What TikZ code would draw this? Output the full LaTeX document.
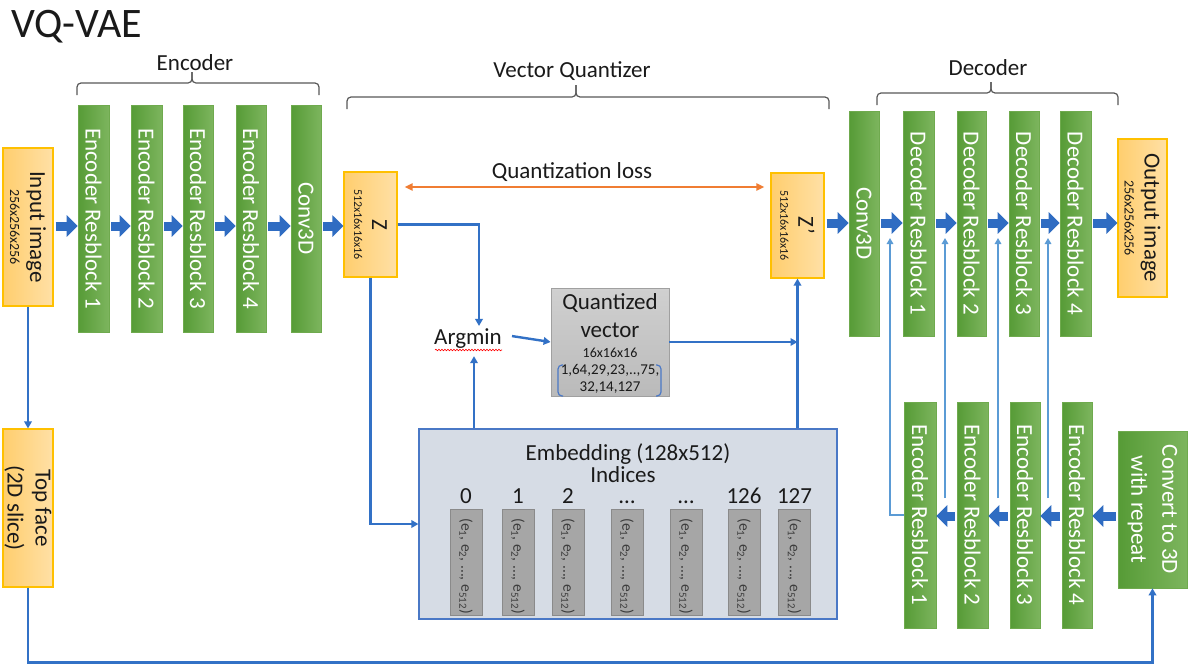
\documentclass[tikz,border=0pt]{standalone}
\usepackage{fontspec}
\setmainfont{Carlito}
\usetikzlibrary{arrows.meta,calc,decorations.pathmorphing}

\definecolor{gDark}{HTML}{569B36}
\definecolor{gLight}{HTML}{7DB55E}
\definecolor{gEdge}{HTML}{6FAA4E}
\definecolor{oDark}{HTML}{FFCE6E}
\definecolor{oLight}{HTML}{FFE0A6}
\definecolor{oEdge}{HTML}{FFC000}
\definecolor{flowBlue}{HTML}{2F6CC2}
\definecolor{linkBlue}{HTML}{3271C6}
\definecolor{skipBlue}{HTML}{5B9BD5}
\definecolor{lossOrange}{HTML}{F07D33}
\definecolor{embFill}{HTML}{D6DCE5}
\definecolor{embEdge}{HTML}{4A78C6}
\definecolor{qvDark}{HTML}{BABABA}
\definecolor{qvLight}{HTML}{D0D0D0}
\definecolor{qvEdge}{HTML}{A0A0A0}
\definecolor{barFill}{HTML}{A6A6A6}
\definecolor{barEdge}{HTML}{8A8A8A}
\definecolor{braceGray}{HTML}{595959}
\definecolor{ink}{HTML}{1A1A1A}

\tikzset{
  txt/.style={font=\fontsize{23}{28}\selectfont, text=ink, inner sep=0pt},
  small/.style={font=\fontsize{14}{16}\selectfont, text=ink, inner sep=0pt},
  gbox/.style={draw=gEdge, line width=0.6pt, left color=gDark, right color=gLight, inner sep=0pt},
  obox/.style={draw=oEdge, line width=1.2pt, left color=oDark, right color=oLight, inner sep=0pt},
  vlabel/.style={rotate=-90, align=center, inner sep=0pt, font=\fontsize{23}{28}\selectfont, text=ink},
  wlabel/.style={vlabel, text=white},
  flowarrow/.style={draw=flowBlue, line width=9pt, shorten <=2pt, -{Triangle[length=11pt,width=21pt]}},
  linkarrow/.style={draw=linkBlue, line width=2.4pt, -{Triangle[length=7pt,width=7.5pt]}},
  skiparrow/.style={draw=skipBlue, line width=1.7pt, -{Triangle[length=6pt,width=6.5pt]}},
  lossarrow/.style={draw=lossOrange, line width=2pt, {Triangle[length=8pt,width=7pt]}-{Triangle[length=8pt,width=7pt]}},
  bracepath/.style={draw=braceGray, line width=1.2pt, rounded corners=4pt},
  barbox/.style={draw=barEdge, line width=0.8pt, fill=barFill, minimum width=32pt, minimum height=106pt, inner sep=0pt},
  barlabel/.style={rotate=-90, inner sep=0pt, font=\fontsize{15.5}{17}\selectfont, text=ink!85},
}

\begin{document}
\begin{tikzpicture}[x=1pt,y=-1pt]
\path[fill=white, use as bounding box] (0,0) rectangle (1190,665);

% title
\node[font=\fontsize{42}{46}\selectfont, text=ink, anchor=base west, inner sep=0pt] (title) at (11,37) {VQ-VAE};

% ---------------- encoder ----------------
\node[obox, minimum width=50pt, minimum height=158pt] (input) at (28,227) {};
\node[vlabel, font=\fontsize{23}{20}\selectfont] (inputt) at (input) {Input image\\{\fontsize{14}{16}\selectfont 256x256x256}};

\node[gbox, minimum width=31pt, minimum height=227pt] (er1) at (93.5,218.5) {};
\node[gbox, minimum width=31pt, minimum height=227pt] (er2) at (146.5,218.5) {};
\node[gbox, minimum width=30pt, minimum height=227pt] (er3) at (198,218.5) {};
\node[gbox, minimum width=30pt, minimum height=227pt] (er4) at (251,218.5) {};
\node[gbox, minimum width=30pt, minimum height=227pt] (econv) at (306,218.5) {};
\node[wlabel] (er1t) at (er1) {Encoder Resblock 1};
\node[wlabel] (er2t) at (er2) {Encoder Resblock 2};
\node[wlabel] (er3t) at (er3) {Encoder Resblock 3};
\node[wlabel] (er4t) at (er4) {Encoder Resblock 4};
\node[wlabel] (econvt) at (econv) {Conv3D};

\draw[bracepath] (77,95) -- (77,83) -- (192,83) -- (192,72);
\draw[bracepath] (319,95) -- (319,83) -- (192,83) -- (192,72);
\node[txt, anchor=base] (enclab) at (195,70) {Encoder};

% ---------------- vector quantizer ----------------
\node[obox, minimum width=53pt, minimum height=105pt] (z) at (370.5,224.5) {};
\node[vlabel, font=\fontsize{23}{18}\selectfont] (zt) at (z) {Z\\{\fontsize{12}{14}\selectfont 512x16x16x16}};
\node[obox, minimum width=53pt, minimum height=105pt] (zp) at (797.5,225.5) {};
\node[vlabel, font=\fontsize{23}{18}\selectfont] (zpt) at (zp) {Z’\\{\fontsize{12}{14}\selectfont 512x16x16x16}};

\draw[bracepath] (347,109) -- (347,97) -- (576,97) -- (576,85);
\draw[bracepath] (829,109) -- (829,97) -- (576,97) -- (576,85);
\node[txt, anchor=base] (vqlab) at (572,77) {Vector Quantizer};

\node[txt, anchor=base] (losslab) at (572,178) {Quantization loss};
\draw[lossarrow, shorten <=7pt, shorten >=6pt] (z.east |- 0,187) -- (zp.west |- 0,187);

\node[txt, anchor=base] (argmin) at (468,344) {Argmin};
\draw[red, line width=0.6pt, decorate, decoration={snake, amplitude=0.8pt, segment length=3pt}]
  (435,350) -- (502,350);

\node[draw=qvEdge, line width=0.8pt, top color=qvLight, bottom color=qvDark,
      minimum width=118pt, minimum height=108pt, inner sep=0pt] (qv) at (610,342) {};
\node[txt, anchor=base] (qv1) at (610,309) {Quantized};
\node[txt, anchor=base] (qv2) at (610,337) {vector};
\node[small, anchor=base] (qv3) at (610,357) {16x16x16};
\node[small, font=\fontsize{15}{17}\selectfont, anchor=base] (qv4) at (610,374) {1,64,29,23,..,75,};
\node[small, font=\fontsize{15}{17}\selectfont, anchor=base] (qv5) at (610,391) {32,14,127};
\draw[draw=embEdge, line width=1.2pt, rounded corners=4pt] (563,365) -- (558,365) -- (558,396) -- (563,396);
\draw[draw=embEdge, line width=1.2pt, rounded corners=4pt] (656,365) -- (661,365) -- (661,396) -- (656,396);

% codebook
\node[draw=embEdge, line width=1.2pt, fill=embFill, minimum width=418pt, minimum height=190pt, inner sep=0pt] (emb) at (628,524) {};
\node[txt, anchor=base] (embt) at (628,460) {Embedding (128x512)};
\node[txt, anchor=base] (indt) at (623,482) {Indices};
\foreach \name/\x/\lab in {b0/466/0, b1/518/1, b2/568/2, b3/627/…, b4/686/…, b5/744/126, b6/794.5/127}{
  \node[txt, anchor=base] (\name i) at (\x,503) {\lab};
  \node[barbox] (\name) at (\x,562) {};
  \node[barlabel] (\name t) at ([yshift=-4pt]\name.center) {(e\textsubscript{1}, e\textsubscript{2}, ..., e\textsubscript{512})};
}

% quantizer connections
\coordinate (amintop) at ($(argmin.north)+(11,-2)$);
\coordinate (aminbot) at ($(argmin.south)+(6,8)$);
\draw[linkarrow] (z.east) -| (amintop);
\draw[linkarrow] (emb.north -| aminbot) -- (aminbot);
\draw[linkarrow] ($(argmin.east)+(10,-2)$) -- (qv.west);
\draw[linkarrow] (qv.east) -- (qv.east -| zp.south);
\draw[linkarrow] (emb.north -| zp.south) -- (zp.south);
\draw[linkarrow] (z.south) |- (emb.west);

% ---------------- decoder ----------------
\node[gbox, minimum width=30pt, minimum height=225pt] (dconv) at (864,223.5) {};
\node[gbox, minimum width=31pt, minimum height=225pt] (dr1) at (918.5,223.5) {};
\node[gbox, minimum width=29pt, minimum height=225pt] (dr2) at (971.5,223.5) {};
\node[gbox, minimum width=30pt, minimum height=225pt] (dr3) at (1024,223.5) {};
\node[gbox, minimum width=31pt, minimum height=225pt] (dr4) at (1075.5,223.5) {};
\node[wlabel] (dconvt) at (dconv) {Conv3D};
\node[wlabel] (dr1t) at (dr1) {Decoder Resblock 1};
\node[wlabel] (dr2t) at (dr2) {Decoder Resblock 2};
\node[wlabel] (dr3t) at (dr3) {Decoder Resblock 3};
\node[wlabel] (dr4t) at (dr4) {Decoder Resblock 4};
\node[obox, minimum width=49pt, minimum height=158pt] (output) at (1142.5,218) {};
\node[vlabel, font=\fontsize{23}{20}\selectfont] (outputt) at (output) {Output image\\{\fontsize{14}{16}\selectfont 256x256x256}};

\draw[bracepath] (877,105) -- (877,93) -- (991,93) -- (991,82);
\draw[bracepath] (1118,105) -- (1118,93) -- (991,93) -- (991,82);
\node[txt, anchor=base] (declab) at (988,75) {Decoder};

% 2D slice branch
\node[obox, minimum width=50pt, minimum height=158pt] (topface) at (28,508) {};
\node[vlabel] (topfacet) at (topface) {Top face\\(2D slice)};
\node[gbox, minimum width=69pt, minimum height=157pt] (to3d) at (1152.5,509.5) {};
\node[wlabel, font=\fontsize{23}{31}\selectfont] (to3dt) at (to3d) {Convert to 3D\\with repeat};

\node[gbox, minimum width=32pt, minimum height=226pt] (er1b) at (920,515) {};
\node[gbox, minimum width=31pt, minimum height=226pt] (er2b) at (972.5,515) {};
\node[gbox, minimum width=30pt, minimum height=226pt] (er3b) at (1025,515) {};
\node[gbox, minimum width=30pt, minimum height=226pt] (er4b) at (1077,515) {};
\node[wlabel] (er1bt) at (er1b) {Encoder Resblock 1};
\node[wlabel] (er2bt) at (er2b) {Encoder Resblock 2};
\node[wlabel] (er3bt) at (er3b) {Encoder Resblock 3};
\node[wlabel] (er4bt) at (er4b) {Encoder Resblock 4};

% main data flow
\draw[flowarrow] (input.east |- 0,226) -- (er1.west |- 0,226);
\draw[flowarrow] (er1.east |- 0,226) -- (er2.west |- 0,226);
\draw[flowarrow] (er2.east |- 0,226) -- (er3.west |- 0,226);
\draw[flowarrow] (er3.east |- 0,226) -- (er4.west |- 0,226);
\draw[flowarrow] (er4.east |- 0,226) -- (econv.west |- 0,226);
\draw[flowarrow] (econv.east |- 0,226) -- (z.west |- 0,226);

\draw[flowarrow] (zp.east |- 0,223) -- (dconv.west |- 0,223);
\draw[flowarrow] (dconv.east |- 0,223) -- (dr1.west |- 0,223);
\draw[flowarrow] (dr1.east |- 0,223) -- (dr2.west |- 0,223);
\draw[flowarrow] (dr2.east |- 0,223) -- (dr3.west |- 0,223);
\draw[flowarrow] (dr3.east |- 0,223) -- (dr4.west |- 0,223);
\draw[flowarrow] (dr4.east |- 0,223) -- (output.west |- 0,223);

\draw[flowarrow] (to3d.west |- 0,516) -- (er4b.east |- 0,516);
\draw[flowarrow] (er4b.west |- 0,516) -- (er3b.east |- 0,516);
\draw[flowarrow] (er3b.west |- 0,516) -- (er2b.east |- 0,516);
\draw[flowarrow] (er2b.west |- 0,516) -- (er1b.east |- 0,516);

% slice path
\draw[linkarrow] (input.south) -- (topface.north);
\draw[linkarrow] (topface.south) -- ++(0,75) -| (to3d.south);

% skip connections into the decoder
\coordinate (sk1) at (890,238);
\coordinate (sk2) at (945,238);
\coordinate (sk3) at (998,238);
\coordinate (sk4) at (1048,238);
\coordinate (sb2) at (945,498);
\coordinate (sb3) at (998,498);
\coordinate (sb4) at (1048,498);
\draw[skiparrow] (er1b.west) -| (sk1);
\draw[skiparrow] (sb2) -- (sk2);
\draw[skiparrow] (sb3) -- (sk3);
\draw[skiparrow] (sb4) -- (sk4);
\end{tikzpicture}
\end{document}
